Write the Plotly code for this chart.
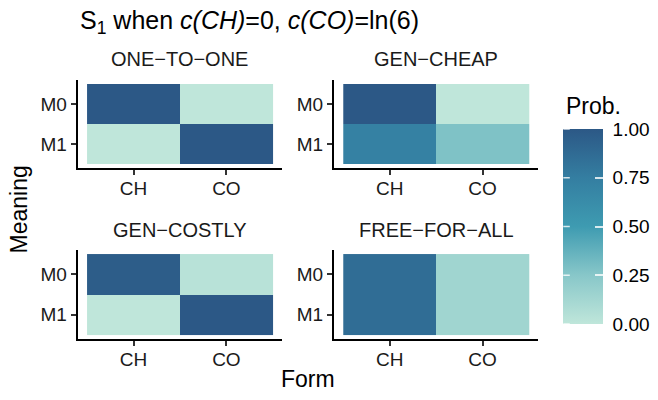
import plotly.graph_objects as go

# ---- data -------------------------------------------------------------
forms = ["CH", "CO"]
meanings = ["M0", "M1"]
panel_names = ["ONE−TO−ONE", "GEN−CHEAP", "GEN−COSTLY", "FREE−FOR−ALL"]

# S1 probabilities, rows = meaning (M0, M1), columns = form (CH, CO)
one_to_one = [[1.00, 0.00], [0.00, 1.00]]
gen_cheap = [[1.00, 0.00], [0.72, 0.28]]
gen_costly = [[0.97, 0.03], [0.00, 1.00]]
free_for_all = [[0.86, 0.14], [0.86, 0.14]]

prob_ticks = [0.00, 0.25, 0.50, 0.75, 1.00]
prob_ticktext = ["0.00", "0.25", "0.50", "0.75", "1.00"]

# ---- layout geometry (page is 658 x 400 px) ---------------------------
W, H = 658, 400
FONT = "Liberation Sans, Arial, Helvetica, sans-serif"


def px_x(a, b):
    return [a / W, b / W]


def px_y(top, bottom):
    return [1 - bottom / H, 1 - top / H]


col_dom = [px_x(78, 283), px_x(335, 540)]
row_dom = [px_y(80, 168), px_y(250, 339)]

colorscale = [
    [0.00, "#bfe6da"],
    [0.25, "#88c7c9"],
    [0.50, "#3e9bb1"],
    [0.75, "#347ea1"],
    [1.00, "#2c5886"],
]

fig = go.Figure()
panel_values = [one_to_one, gen_cheap, gen_costly, free_for_all]

annotations = []
for i, (name, z) in enumerate(zip(panel_names, panel_values)):
    r, c = divmod(i, 2)
    ax = "" if i == 0 else str(i + 1)
    fig.add_trace(
        go.Heatmap(
            z=z,
            x=forms,
            y=meanings,
            coloraxis="coloraxis",
            xaxis="x" + ax,
            yaxis="y" + ax,
            hovertemplate="Form %{x}<br>Meaning %{y}<br>Prob. %{z:.2f}<extra></extra>",
        )
    )
    common = dict(
        showline=True,
        linecolor="black",
        linewidth=2,
        ticks="outside",
        ticklen=5,
        tickwidth=1.8,
        tickcolor="#333333",
        tickfont=dict(family=FONT, size=19, color="#1a1a1a"),
        showgrid=False,
        zeroline=False,
        type="category",
        fixedrange=True,
        range=[-0.6, 1.6],
    )
    fig.update_layout(
        {
            "xaxis" + ax: dict(
                common,
                domain=col_dom[c],
                anchor="y" + ax,
                categoryorder="array",
                categoryarray=forms,
                ticklabelstandoff=-3,
            ),
            "yaxis" + ax: dict(
                common,
                domain=row_dom[r],
                anchor="x" + ax,
                categoryorder="array",
                categoryarray=meanings[::-1],
            ),
        }
    )
    # facet strip label
    strip_y = [59, 230][r]
    annotations.append(
        dict(
            text=name,
            x=sum(col_dom[c]) / 2,
            y=1 - strip_y / H,
            xref="paper",
            yref="paper",
            xanchor="center",
            yanchor="middle",
            showarrow=False,
            font=dict(family=FONT, size=20, color="#1a1a1a"),
        )
    )

# axis titles
annotations.append(
    dict(
        text="Form",
        x=(col_dom[0][0] + col_dom[1][1]) / 2,
        y=1 - 379 / H,
        xref="paper",
        yref="paper",
        xanchor="center",
        yanchor="middle",
        showarrow=False,
        font=dict(family=FONT, size=23, color="black"),
    )
)
annotations.append(
    dict(
        text="Meaning",
        x=20 / W,
        y=(row_dom[0][1] + row_dom[1][0]) / 2,
        xref="paper",
        yref="paper",
        xanchor="center",
        yanchor="middle",
        textangle=-90,
        showarrow=False,
        font=dict(family=FONT, size=23, color="black"),
    )
)
# colour bar title
annotations.append(
    dict(
        text="Prob.",
        x=566 / W,
        y=1 - 106 / H,
        xref="paper",
        yref="paper",
        xanchor="left",
        yanchor="middle",
        showarrow=False,
        font=dict(family=FONT, size=23, color="black"),
    )
)

# colour bar geometry
cb_left, cb_thick = 565, 40
cb_top, cb_bottom = 129, 324
cb_len = cb_bottom - cb_top

# short white tick marks on the left inner edge of the colour bar
for v in prob_ticks:
    annotations.append(
        dict(
            text="",
            x=cb_left / W,
            y=1 - (cb_bottom - v * cb_len) / H,
            xref="paper",
            yref="paper",
            showarrow=True,
            arrowhead=0,
            arrowwidth=1.5,
            arrowcolor="rgba(255,255,255,0.8)",
            standoff=0,
            startstandoff=0,
            ax=8,
            ay=0,
        )
    )

NBSP = "\u00a0"

fig.update_layout(
    width=W,
    height=H,
    autosize=False,
    margin=dict(l=0, r=0, t=0, b=0),
    paper_bgcolor="white",
    plot_bgcolor="white",
    font=dict(family=FONT, color="black"),
    title=dict(
        text="S<sub>1</sub> when <i>c(CH)</i>=0, <i>c(CO)</i>=ln(6)",
        x=80 / W,
        xanchor="left",
        xref="container",
        y=1 - 20 / H,
        yanchor="middle",
        yref="container",
        font=dict(family=FONT, size=25, color="black"),
    ),
    coloraxis=dict(
        cmin=0,
        cmax=1,
        colorscale=colorscale,
        colorbar=dict(
            x=cb_left / W,
            xanchor="left",
            xpad=0,
            y=1 - (cb_top + cb_bottom) / 2 / H,
            yanchor="middle",
            ypad=0,
            len=cb_len,
            lenmode="pixels",
            thickness=cb_thick,
            thicknessmode="pixels",
            outlinewidth=0,
            tickvals=prob_ticks,
            ticktext=[NBSP + t for t in prob_ticktext],
            ticks="inside",
            ticklen=8,
            tickwidth=1.5,
            tickcolor="rgba(255,255,255,0.8)",
            tickfont=dict(family=FONT, size=19, color="black"),
        ),
    ),
    annotations=annotations,
)

fig.write_html("out.html")
